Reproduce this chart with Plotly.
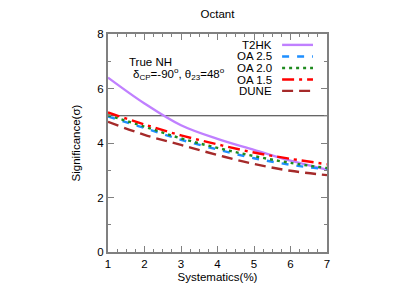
import plotly.graph_objects as go

systematics = [1, 2, 3, 4, 5, 6, 7]
t2hk = [6.40, 5.45, 4.65, 4.15, 3.75, 3.35, 3.02]
oa25 = [4.97, 4.55, 4.12, 3.76, 3.44, 3.20, 3.03]
oa20 = [5.02, 4.60, 4.17, 3.82, 3.52, 3.27, 3.08]
oa15 = [5.12, 4.68, 4.28, 3.95, 3.65, 3.42, 3.22]
dune = [4.78, 4.30, 3.93, 3.56, 3.23, 2.98, 2.82]
five_sigma = 5

series = [
    ("T2HK", t2hk, "#c080ff", "solid"),
    ("OA 2.5", oa25, "#1e8fff", "7px,8px"),
    ("OA 2.0", oa20, "#1f8a1f", "3px,4px"),
    ("OA 1.5", oa15, "#ff0000", "12px,5px,3px,5px"),
    ("DUNE", dune, "#a52a2a", "11px,6px"),
]

FONT = "Liberation Sans, Arial, sans-serif"
fig = go.Figure()

fig.add_trace(go.Scatter(x=[systematics[0], systematics[-1]], y=[five_sigma, five_sigma],
                         mode="lines", line=dict(color="#333333", width=1.2),
                         showlegend=False, hoverinfo="skip"))

for name, vals, col, dash in series:
    fig.add_trace(go.Scatter(x=systematics, y=vals, mode="lines", name=name,
                             line=dict(color=col, width=2.4, dash=dash, shape="spline", smoothing=1.0),
                             showlegend=False))

# custom gnuplot-style legend (text right, sample on the right)
row_y = [0.950, 0.897, 0.844, 0.791, 0.739]
for (name, vals, col, dash), yy in zip(series, row_y):
    fig.add_annotation(x=0.758, y=yy, xref="paper", yref="paper", text=name,
                       showarrow=False, xanchor="right", yanchor="middle",
                       font=dict(size=11.5, color="black", family=FONT))
    fig.add_shape(type="line", xref="paper", yref="paper", x0=0.795, x1=0.936, y0=yy, y1=yy,
                  line=dict(color=col, width=2.4, dash=dash))

fig.add_annotation(x=0.088, y=0.872, xref="paper", yref="paper", text="True NH",
                   showarrow=False, xanchor="left", yanchor="middle",
                   font=dict(size=11.5, color="black", family=FONT))
fig.add_annotation(x=0.105, y=0.815, xref="paper", yref="paper",
                   text="δ<sub>CP</sub>=-90<sup>o</sup>, θ<sub>23</sub>=48<sup>o</sup>",
                   showarrow=False, xanchor="left", yanchor="middle",
                   font=dict(size=11.5, color="black", family=FONT))

axis_common = dict(showline=True, linecolor="#808080", linewidth=2, mirror="allticks",
                   ticks="inside", ticklen=6, tickcolor="#808080", tickwidth=1,
                   showgrid=False, zeroline=False, automargin=False,
                   tickfont=dict(size=11.5, color="black", family=FONT))

fig.update_xaxes(range=[1, 7], dtick=1, tick0=1,
                 minor=dict(ticks="inside", dtick=0.25, ticklen=3, tickcolor="#808080", showgrid=False),
                 title=dict(text="Systematics(%)", font=dict(size=11.5, color="black", family=FONT), standoff=4),
                 **axis_common)
fig.update_yaxes(range=[0, 8], dtick=2, tick0=0,
                 minor=dict(ticks="inside", dtick=1, ticklen=3, tickcolor="#808080", showgrid=False),
                 title=dict(text="Significance(σ)", font=dict(size=11.5, color="black", family=FONT), standoff=14),
                 **axis_common)

fig.update_layout(
    width=415, height=290, autosize=False,
    margin=dict(l=108, r=88, t=34, b=38),
    paper_bgcolor="white", plot_bgcolor="white",
    title=dict(text="Octant", x=(108 + 327) / 2 / 415, xanchor="center", y=1 - 14 / 290, yanchor="middle",
               font=dict(size=11.5, color="black", family=FONT)),
    showlegend=False,
)

fig.write_html("out.html",
               config={"responsive": False, "displayModeBar": False},
               post_script="document.body.style.margin='0';document.body.style.overflow='hidden';")
